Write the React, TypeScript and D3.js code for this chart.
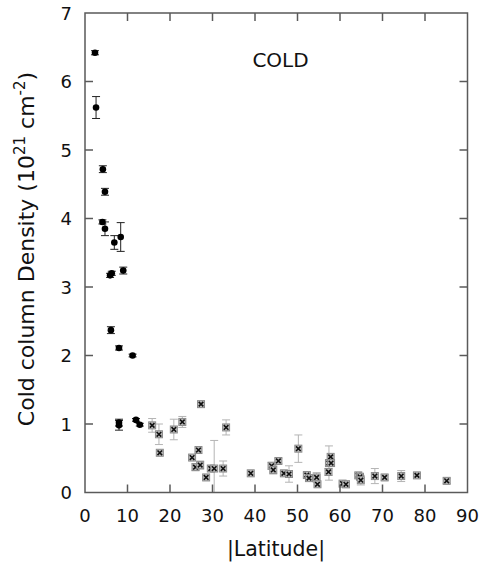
import React from "react";
import * as d3 from "d3";

const xTicks = [0, 10, 20, 30, 40, 50, 60, 70, 80, 90];
const yTicks = [0, 1, 2, 3, 4, 5, 6, 7];

// filled circles (black)
const latB = [2.35, 2.6, 4.2, 4.7, 4.1, 4.7, 6.9, 8.4, 5.9, 6.3, 9.0, 6.1, 8.0, 11.2, 8.0, 8.0, 12.0, 12.9];
const colB = [6.42, 5.62, 4.72, 4.39, 3.95, 3.85, 3.65, 3.73, 3.17, 3.2, 3.24, 2.37, 2.11, 2.0, 0.98, 1.02, 1.06, 0.99];
const errB = [0.03, 0.16, 0.05, 0.05, 0.03, 0.1, 0.1, 0.21, 0.03, 0.03, 0.05, 0.05, 0.03, 0.02, 0.07, 0.05, 0.02, 0.02];

// crossed squares (gray)
const latG = [15.8, 17.4, 17.6, 20.9, 22.9, 27.3, 26.7, 25.2, 26.0, 27.1, 28.5, 29.6, 30.4, 32.5, 33.2, 39.0, 43.9, 44.3, 45.5, 46.8, 48.0, 50.2, 52.2, 52.7, 54.5, 54.7, 57.8, 57.4, 57.9, 57.3, 60.6, 61.4, 64.3, 64.7, 64.9, 68.2, 70.5, 74.4, 78.1, 85.1];
const colG = [0.98, 0.85, 0.58, 0.92, 1.03, 1.29, 0.62, 0.51, 0.37, 0.4, 0.22, 0.35, 0.35, 0.35, 0.95, 0.28, 0.39, 0.33, 0.46, 0.28, 0.27, 0.64, 0.255, 0.21, 0.22, 0.12, 0.52, 0.43, 0.43, 0.3, 0.13, 0.12, 0.25, 0.23, 0.18, 0.24, 0.22, 0.24, 0.25, 0.17];
const errG = [0.1, 0.15, 0.0, 0.15, 0.08, 0.0, 0.0, 0.0, 0.05, 0.06, 0.0, 0.0, 0.41, 0.11, 0.11, 0.0, 0.05, 0.06, 0.04, 0.03, 0.12, 0.2, 0.03, 0.0, 0.07, 0.0, 0.0, 0.25, 0.0, 0.05, 0.0, 0.05, 0.0, 0.03, 0.07, 0.11, 0.04, 0.08, 0.02, 0.04];

export default function App() {
  const left = 85, right = 467.5, top = 13, bottom = 492.5;
  const x = d3.scaleLinear().domain([0, 90]).range([left, right]);
  const y = d3.scaleLinear().domain([0, 7]).range([bottom, top]);
  const font = "DejaVu Sans, sans-serif";
  const axisColor = "#5a5a5a";
  const tl = 8;
  const cap = 4;
  const gray = "#b4b4b4";

  return (
    <svg width={485} height={566} style={{ position: "absolute", left: 0, top: 0, background: "#fff" }} fontFamily={font}>
      {/* gray error bars */}
      {latG.map((lx, i) => {
        if (errG[i] <= 0) return null;
        const cx = x(lx);
        const y1 = y(Math.max(0, colG[i] - errG[i]));
        const y2 = y(colG[i] + errG[i]);
        return (
          <g key={"ge" + i} stroke={gray} strokeWidth={1}>
            <line x1={cx} x2={cx} y1={y1} y2={y2} />
            <line x1={cx - cap} x2={cx + cap} y1={y2} y2={y2} />
            {colG[i] - errG[i] > 0 && <line x1={cx - cap} x2={cx + cap} y1={y1} y2={y1} />}
          </g>
        );
      })}
      {/* gray markers */}
      {latG.map((lx, i) => {
        const cx = x(lx), cy = y(colG[i]);
        const s = 3.5, c = 2.3;
        return (
          <g key={"gm" + i}>
            <rect x={cx - s} y={cy - s} width={2 * s} height={2 * s} fill="#bdbdbd" stroke="#8a8a8a" strokeWidth={1} />
            <path d={`M${cx - c},${cy - c}L${cx + c},${cy + c}M${cx - c},${cy + c}L${cx + c},${cy - c}`} stroke="#111" strokeWidth={1.6} />
          </g>
        );
      })}
      {/* black error bars */}
      {latB.map((lx, i) => {
        const cx = x(lx);
        const y1 = y(colB[i] - errB[i]);
        const y2 = y(colB[i] + errB[i]);
        return (
          <g key={"be" + i} stroke="#222" strokeWidth={1}>
            <line x1={cx} x2={cx} y1={y1} y2={y2} />
            <line x1={cx - cap} x2={cx + cap} y1={y1} y2={y1} />
            <line x1={cx - cap} x2={cx + cap} y1={y2} y2={y2} />
          </g>
        );
      })}
      {latB.map((lx, i) => (
        <circle key={"bc" + i} cx={x(lx)} cy={y(colB[i])} r={3.3} fill="#000" />
      ))}

      {/* frame */}
      <rect x={left} y={top} width={right - left} height={bottom - top} fill="none" stroke={axisColor} strokeWidth={1.5} />
      {xTicks.slice(1, -1).map((t) => (
        <g key={"xt" + t} stroke={axisColor} strokeWidth={1.5}>
          <line x1={x(t)} x2={x(t)} y1={bottom} y2={bottom - tl} />
          <line x1={x(t)} x2={x(t)} y1={top} y2={top + tl} />
        </g>
      ))}
      {yTicks.slice(1, -1).map((t) => (
        <g key={"yt" + t} stroke={axisColor} strokeWidth={1.5}>
          <line x1={left} x2={left + tl} y1={y(t)} y2={y(t)} />
          <line x1={right} x2={right - tl} y1={y(t)} y2={y(t)} />
        </g>
      ))}
      {xTicks.map((t) => (
        <text key={"xl" + t} x={x(t)} y={522} textAnchor="middle" fontSize={18} fill="#111">
          {t}
        </text>
      ))}
      {yTicks.map((t) => (
        <text key={"yl" + t} x={72} y={y(t) + 6.5} textAnchor="end" fontSize={18} fill="#111">
          {t}
        </text>
      ))}
      <text x={276} y={556} textAnchor="middle" fontSize={20.5} fill="#111">
        |Latitude|
      </text>
      <text transform={`translate(34,249) rotate(-90)`} textAnchor="middle" fontSize={22} fill="#111">
        Cold column Density (10<tspan fontSize={15} dy={-9}>21</tspan>
        <tspan dy={9}> cm</tspan>
        <tspan fontSize={15} dy={-9}>-2</tspan>
        <tspan dy={9}>)</tspan>
      </text>
      <text x={280.5} y={67} textAnchor="middle" fontSize={20} fill="#111">
        COLD
      </text>
    </svg>
  );
}
